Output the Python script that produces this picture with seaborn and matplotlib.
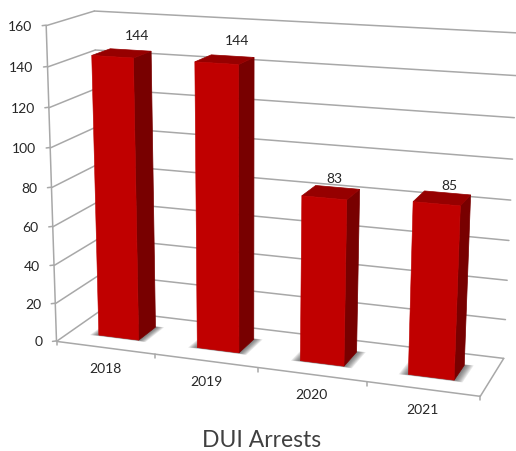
import numpy as np
import pandas as pd
import matplotlib
matplotlib.use('Agg')
import matplotlib.pyplot as plt
import matplotlib.transforms as mtransforms
from matplotlib.patches import Polygon
import seaborn as sns

# data
years = ['2018', '2019', '2020', '2021']
arrests = [144, 144, 83, 85]
y_ticks = [0, 20, 40, 60, 80, 100, 120, 140, 160]

W, H = 516, 452

# known points of the 3d box: (category x, value, depth) -> picture pixels
anchors = [
    (-0.5, 0, 0, 58, 341), (-0.5, 160, 0, 44.5, 27), (-0.5, 80, 0, 51.5, 188),
    (-0.5, 160, 1, 96, 12), (-0.5, 0, 1, 100, 312),
    (3.5, 160, 1, 518, 34), (3.5, 0, 1, 504, 358), (3.5, 0, 0, 480, 398),
    (0.5, 0, 0, 155.7, 355.5), (1.5, 0, 0, 258, 368.5), (2.5, 0, 0, 366.7, 383.5),
]


def fit_camera(points):
    rows = []
    for x, y, z, u, v in points:
        p = [(x + 0.5) / 4, y / 160, z, 1]
        rows.append(p + [0, 0, 0, 0] + [-u * c for c in p])
        rows.append([0, 0, 0, 0] + p + [-v * c for c in p])
    return np.linalg.svd(np.array(rows))[2][-1].reshape(3, 4)


CAM = fit_camera(anchors)


def proj(x, y, z):
    # returns display pixels (origin bottom left)
    x, y, z = np.broadcast_arrays(x, y, z)
    p = np.stack([(x + 0.5) / 4, y / 160, z, np.ones_like(x, dtype=float)], axis=-1)
    q = p @ CAM.T
    return np.stack([q[..., 0] / q[..., 2], H - q[..., 1] / q[..., 2]], axis=-1)


class DepthPlane(mtransforms.Transform):
    input_dims = output_dims = 2
    is_separable = False
    has_inverse = False

    def __init__(self, z):
        super().__init__()
        self.z = z

    def transform_non_affine(self, values):
        values = np.asarray(values, dtype=float)
        return proj(values[:, 0], values[:, 1], self.z)


sns.set_theme(style='white')
plt.rcParams['font.family'] = ['Lato', 'DejaVu Sans']

fig = plt.figure(figsize=(W / 100, H / 100), dpi=100)
ax = fig.add_axes([0, 0, 1, 1])

df = pd.DataFrame({'year': years, 'arrests': arrests})
sns.barplot(data=df, x='year', y='arrests', color='#C00000', saturation=1, width=0.41, ax=ax)
ax.set_axis_off()

identity = mtransforms.IdentityTransform()
GRID = '#A8A8A8'
TEXT = '#262626'
Z_FRONT, Z_BACK = 0.30, 0.70


def line(a, b, lw=1.1, color=GRID):
    pts = proj(*np.array([a, b]).T)
    ax.plot(pts[:, 0], pts[:, 1], color=color, lw=lw, transform=identity, zorder=1, clip_on=False)


def face(corners, color, zorder=3, alpha=1.0, edge='none'):
    pts = proj(*np.array(corners, dtype=float).T)
    ax.add_patch(Polygon(pts, closed=True, facecolor=color, edgecolor=edge, lw=0.5, alpha=alpha,
                         transform=identity, zorder=zorder, clip_on=False))


# walls and floor
for t in y_ticks:
    line((-0.5, t, 0), (-0.5, t, 1))
    line((-0.5, t, 1), (3.5, t, 1))
    a = proj(-0.5, t, 0)
    ax.plot([a[0] - 4, a[0]], [a[1], a[1] + 0.5], color=GRID, lw=1.1, transform=identity, zorder=1, clip_on=False)
    ax.annotate(str(t), xy=a, xycoords=identity, xytext=(-14, 0), textcoords='offset pixels',
                ha='right', va='center', fontsize=10, color=TEXT)

line((-0.5, 0, 0), (-0.5, 160, 0))
line((-0.5, 0, 0), (3.5, 0, 0))
line((3.5, 0, 0), (3.5, 0, 1))
for i in range(5):
    a = proj(i - 0.5, 0, 0)
    ax.plot([a[0], a[0]], [a[1], a[1] - 4], color=GRID, lw=1.1, transform=identity, zorder=1, clip_on=False)

# category labels, under the floor edge
for i, year in enumerate(years):
    a = proj(i, 0, 0)
    ax.annotate(year, xy=a, xycoords=identity, xytext=(0, -20), textcoords='offset pixels',
                ha='center', va='center', fontsize=10, color=TEXT)

# value labels sit above the back of each bar
label_offsets = [(6, 15), (4, 16), (-3, 9), (2, 8)]
plane = DepthPlane(Z_FRONT)
for bar, val, off in zip(ax.patches, arrests, label_offsets):
    x0, w = bar.get_x(), bar.get_width()
    x1 = x0 + w
    h = bar.get_height()

    # soft shadow on the floor
    for k in range(1, 9):
        d = 0.01 * k
        face([(x0 - d, 0, Z_FRONT - d * 0.35), (x1 + d, 0, Z_FRONT - d * 0.35),
              (x1 + d, 0, Z_BACK + d * 0.3), (x0 - d, 0, Z_BACK + d * 0.3)], '#303030', zorder=2, alpha=0.11)

    face([(x1, 0, Z_FRONT), (x1, 0, Z_BACK), (x1, h, Z_BACK), (x1, h, Z_FRONT)], '#780000', edge='#780000')
    face([(x0, h, Z_FRONT), (x1, h, Z_FRONT), (x1, h, Z_BACK), (x0, h, Z_BACK)], '#960000', edge='#960000')

    bar.set_transform(plane)
    bar.set_clip_on(False)
    bar.set_zorder(4)
    bar.set_edgecolor('#C00000')
    bar.set_linewidth(0.4)

    ax.annotate(str(val), xy=proj(x0 + w / 2, h, Z_BACK), xycoords=identity, xytext=off,
                textcoords='offset pixels', ha='center', va='center', fontsize=10, color=TEXT, zorder=5)

fig.text(262 / W, 1 - 441 / H, 'DUI Arrests', ha='center', va='center', fontsize=16.5, color='#404040')

fig.savefig('out.png', dpi=100)
